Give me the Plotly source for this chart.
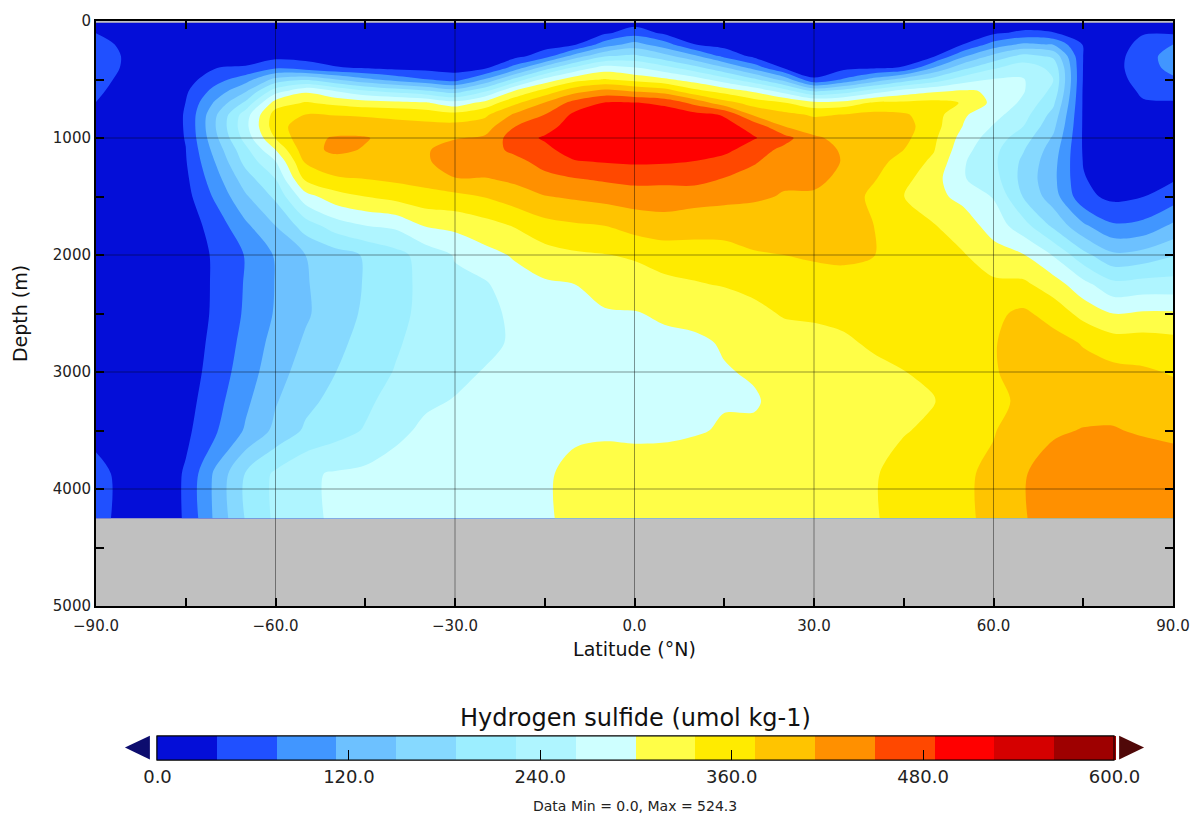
import plotly.graph_objects as go
import numpy as np

# ---------------- data ----------------
latitudes = list(range(-90, 95, 5))
depths = [15, 100, 200, 300, 400, 500, 600, 700, 800, 900, 1000, 1100, 1200,
          1350, 1500, 1750, 2000, 2250, 2500, 2750, 3000, 3250, 3500, 3870, 4250]

# one profile (values at the depths above) per latitude, umol kg-1
h2s_profiles = [
    [20, 37, 50, 55, 55, 50, 44, 37, 30, 22, 15, 12, 10, 8, 6, 5, 4, 4, 4, 5, 7, 12, 25, 50, 50],            # -90
    [12, 22, 30, 34, 33, 28, 22, 18, 15, 12, 10, 8, 7, 6, 5, 4, 3, 3, 3, 4, 5, 8, 15, 25, 25],              # -85
    [6, 7, 8, 9, 10, 11, 12, 12, 12, 12, 12, 12, 11, 10, 8, 6, 3, 2, 2, 2, 3, 5, 10, 8, 8],                 # -80
    [8, 9, 10, 12, 15, 22, 32, 38, 40, 40, 39, 37, 35, 30, 25, 18, 12, 10, 10, 13, 17, 23, 29, 42, 42],     # -75
    [8, 9, 10, 18, 37, 60, 90, 120, 145, 150, 142, 128, 115, 98, 82, 53, 44, 44, 45, 50, 55, 62, 70, 121, 121],  # -70
    [8, 9, 10, 16, 42, 96, 146, 196, 245, 252, 240, 215, 200, 170, 145, 105, 77, 78, 80, 86, 93, 105, 117, 190, 190],  # -65
    [8, 9, 12, 25, 70, 162, 247, 318, 355, 360, 340, 300, 262, 225, 195, 150, 116, 114, 116, 126, 136, 147, 159, 232, 232],  # -60
    [8, 9, 12, 25, 55, 183, 294, 341, 375, 395, 405, 400, 380, 345, 285, 205, 150, 147, 145, 155, 165, 178, 193, 257, 257],  # -55
    [8, 9, 12, 22, 40, 152, 263, 329, 373, 398, 415, 420, 400, 370, 322, 243, 171, 168, 170, 178, 187, 198, 210, 266, 266],  # -50
    [8, 9, 12, 20, 35, 121, 232, 318, 370, 395, 415, 410, 398, 375, 338, 262, 191, 190, 193, 200, 207, 217, 228, 271, 271],  # -45
    [8, 9, 12, 17, 28, 98, 213, 313, 366, 388, 400, 405, 400, 382, 350, 270, 212, 210, 213, 220, 227, 240, 255, 275, 275],   # -40
    [8, 9, 12, 16, 25, 77, 195, 305, 361, 385, 400, 408, 405, 388, 362, 302, 240, 236, 236, 240, 245, 258, 268, 280, 280],   # -35
    [8, 9, 12, 15, 22, 59, 170, 278, 350, 387, 410, 430, 440, 410, 365, 310, 265, 255, 250, 252, 256, 264, 274, 284, 284],   # -30
    [8, 9, 12, 18, 30, 116, 221, 314, 367, 395, 418, 435, 440, 410, 377, 323, 288, 258, 255, 256, 264, 270, 278, 288, 288],  # -25
    [8, 10, 14, 25, 90, 198, 305, 367, 418, 449, 470, 458, 440, 420, 395, 340, 304, 285, 268, 266, 270, 276, 283, 292, 292], # -20
    [8, 12, 22, 56, 167, 275, 352, 415, 450, 472, 492, 478, 462, 440, 411, 362, 322, 295, 282, 280, 282, 286, 290, 297, 297],# -15
    [10, 18, 33, 128, 233, 322, 400, 465, 495, 506, 510, 505, 485, 448, 418, 370, 332, 300, 290, 287, 288, 292, 296, 306, 306],  # -10
    [15, 30, 93, 184, 279, 340, 425, 490, 508, 515, 516, 510, 490, 455, 425, 375, 336, 316, 296, 292, 290, 292, 296, 312, 312],  # -5
    [25, 56, 127, 195, 265, 325, 410, 490, 512, 518, 522, 515, 493, 462, 430, 390, 342, 320, 298, 292, 288, 289, 293, 316, 316], # 0
    [18, 30, 91, 163, 238, 308, 395, 480, 508, 514, 518, 514, 492, 460, 432, 395, 355, 328, 305, 292, 287, 287, 293, 318, 318],  # 5
    [14, 22, 38, 120, 202, 282, 350, 440, 499, 508, 512, 508, 487, 465, 425, 393, 355, 335, 310, 294, 293, 295, 297, 320, 320], # 10
    [12, 16, 24, 65, 155, 242, 324, 390, 484, 500, 505, 497, 475, 448, 422, 390, 360, 340, 315, 303, 298, 298, 303, 322, 322], # 15
    [10, 12, 16, 28, 98, 195, 294, 360, 405, 475, 490, 470, 455, 430, 418, 390, 372, 345, 330, 318, 303, 297, 305, 324, 324], # 20
    [10, 12, 14, 20, 33, 136, 247, 340, 385, 412, 465, 440, 425, 418, 410, 390, 375, 358, 340, 325, 315, 310, 312, 325, 325], # 25
    [10, 12, 14, 18, 25, 40, 184, 312, 370, 395, 418, 428, 430, 420, 408, 393, 378, 365, 341, 330, 325, 322, 322, 326, 326],  # 30
    [10, 12, 14, 18, 28, 80, 205, 316, 376, 392, 402, 408, 410, 405, 398, 390, 382, 362, 345, 333, 325, 322, 322, 328, 328],  # 35
    [10, 12, 14, 20, 32, 126, 244, 344, 385, 395, 400, 395, 390, 378, 365, 375, 376, 362, 352, 342, 330, 325, 328, 334, 334], # 40
    [10, 12, 14, 22, 40, 167, 278, 345, 380, 390, 385, 375, 360, 348, 338, 348, 352, 355, 352, 345, 337, 330, 335, 352, 352], # 45
    [10, 12, 15, 33, 114, 203, 295, 350, 355, 352, 345, 340, 330, 315, 310, 340, 350, 352, 350, 348, 343, 336, 345, 360, 360], # 50
    [10, 15, 38, 107, 177, 245, 305, 335, 305, 298, 285, 275, 266, 265, 290, 318, 340, 350, 357, 360, 362, 360, 365, 368, 368],# 55
    [12, 30, 90, 160, 220, 265, 295, 290, 275, 260, 245, 235, 232, 240, 260, 285, 315, 345, 368, 372, 370, 362, 372, 385, 385],# 60
    [15, 45, 120, 200, 245, 265, 265, 255, 240, 225, 205, 190, 180, 175, 185, 240, 302, 345, 382, 395, 397, 385, 400, 410, 410],  # 65
    [12, 38, 110, 180, 215, 225, 215, 195, 175, 160, 145, 132, 125, 122, 130, 180, 260, 318, 360, 390, 400, 405, 408, 428, 428],  # 70
    [10, 30, 35, 37, 36, 35, 33, 33, 33, 33, 33, 34, 36, 40, 48, 120, 200, 275, 325, 372, 390, 400, 414, 440, 440],  # 75
    [8, 12, 20, 25, 27, 25, 22, 20, 18, 17, 16, 16, 17, 20, 28, 80, 157, 235, 300, 355, 385, 400, 415, 443, 443],    # 80
    [15, 35, 48, 55, 55, 50, 42, 35, 28, 24, 22, 22, 23, 27, 37, 85, 165, 240, 305, 355, 380, 395, 408, 440, 440],   # 85
    [20, 32, 75, 95, 88, 68, 48, 35, 28, 25, 24, 25, 28, 34, 55, 120, 185, 240, 305, 350, 372, 390, 405, 430, 430],  # 90
]

level_colors = ["#040ED8", "#2050FF", "#4196FF", "#6DC1FF", "#86D9FF", "#9CEEFF",
                "#AFF5FF", "#CEFFFF", "#FFFE47", "#FFEB00", "#FFC400", "#FF9000",
                "#FF4800", "#FF0000", "#D50000", "#9E0000"]
cbar_minor_ticks = [0, 60, 120, 180, 240, 300, 360, 420, 480, 540, 600]
cbar_major_ticks = [0, 120, 240, 360, 480, 600]
cbar_major_text = ["0.0", "120.0", "240.0", "360.0", "480.0", "600.0"]
x_tickvals = [-90, -60, -30, 0, 30, 60, 90]
y_tickvals = [0, 1000, 2000, 3000, 4000, 5000]

# ---------------- figure ----------------
z = np.array(h2s_profiles, dtype=float).T  # rows = depth, cols = latitude

n = len(level_colors)
colorscale = []
for i, c in enumerate(level_colors):
    colorscale.append([i / n, c])
    colorscale.append([(i + 1) / n, c])

W, H = 1202, 820
ML, MR, MT, MB = 96, 26, 15, 214
PW, PH = W - ML - MR, H - MT - MB


def px_x(p):
    return (p - ML) / PW


def px_y(p):
    return (H - MB - p) / PH


FONT = "DejaVu Sans"


def make_colorbar(tickvals, ticktext, ticklen):
    return dict(
        orientation="h",
        x=px_x(637.5), xanchor="center",
        y=px_y(737), yanchor="top",
        len=957, lenmode="pixels",
        thickness=24, thicknessmode="pixels",
        outlinewidth=1, outlinecolor="black",
        xpad=0, ypad=0,
        tickmode="array", tickvals=tickvals, ticktext=ticktext,
        ticks="inside", ticklen=ticklen, tickcolor="black", tickwidth=1,
        tickfont=dict(family=FONT, size=18, color="#222"),
    )


contour_common = dict(
    x=latitudes, y=depths, z=z,
    zmin=0, zmax=600, autocontour=False,
    contours=dict(start=0, end=600, size=600 / n, coloring="fill", showlines=False),
    line=dict(width=0, smoothing=0.9),
    colorscale=colorscale,
    hoverinfo="skip",
)

fig = go.Figure()
# base field with short (unlabelled) colorbar ticks
fig.add_trace(go.Contour(**contour_common,
                         colorbar=make_colorbar(cbar_minor_ticks, [""] * len(cbar_minor_ticks), 5)))
# same field drawn again; its colorbar carries the long labelled ticks
fig.add_trace(go.Contour(**contour_common,
                         colorbar=make_colorbar(cbar_major_ticks, cbar_major_text, 10)))

# grid lines drawn above the filled contours
for xv in x_tickvals[1:-1]:
    fig.add_shape(type="line", xref="x", yref="paper", x0=xv, x1=xv, y0=0, y1=1,
                  line=dict(color="rgba(0,0,0,0.42)", width=1), layer="above")
for yv in y_tickvals[1:-1]:
    fig.add_shape(type="line", xref="paper", yref="y", x0=0, x1=1, y0=yv, y1=yv,
                  line=dict(color="rgba(0,0,0,0.42)", width=1), layer="above")

# colorbar extension triangles
fig.add_shape(type="path", xref="paper", yref="paper",
              path=f"M {px_x(150)} {px_y(737)} L {px_x(150)} {px_y(761)} L {px_x(125)} {px_y(749)} Z",
              fillcolor="#0C0C6E", line=dict(width=0))
fig.add_shape(type="path", xref="paper", yref="paper",
              path=f"M {px_x(1122)} {px_y(737)} L {px_x(1122)} {px_y(761)} L {px_x(1147)} {px_y(749)} Z",
              fillcolor="#500808", line=dict(width=0))

# colorbar title
fig.add_annotation(text="Hydrogen sulfide (umol kg-1)", xref="paper", yref="paper",
                   x=px_x(637), y=px_y(719), xanchor="center", yanchor="middle",
                   showarrow=False,
                   font=dict(family=FONT, size=24, color="#111"))

fig.add_annotation(text="Data Min = 0.0, Max = 524.3", xref="paper", yref="paper",
                   x=px_x(637), y=px_y(808), xanchor="center", yanchor="middle",
                   showarrow=False,
                   font=dict(family=FONT, size=14, color="#222"))

fig.update_layout(
    width=W, height=H,
    margin=dict(l=ML, r=MR, t=MT, b=MB),
    paper_bgcolor="white", plot_bgcolor="#C0C0C0",
    font=dict(family=FONT, color="#222"),
    showlegend=False,
)
fig.update_xaxes(
    range=[-90, 90], tickmode="array", tickvals=x_tickvals,
    ticktext=[f"{v:.1f}".replace("-", "\u2212") for v in x_tickvals],
    ticks="inside", ticklen=8, tickcolor="black", tickwidth=1.5,
    minor=dict(tickmode="array", tickvals=[-75, -45, -15, 15, 45, 75], ticks="inside",
               ticklen=8, tickcolor="black", tickwidth=1.5, showgrid=False),
    showgrid=False, zeroline=False,
    showline=True, linecolor="black", linewidth=2, mirror="ticks",
    tickfont=dict(family=FONT, size=15, color="#222"),
    ticklabelstandoff=5,
    title=dict(text="Latitude (°N)", font=dict(family=FONT, size=19, color="#111"), standoff=9),
    layer="above traces",
)
fig.update_yaxes(
    range=[5000, 0], tickmode="array", tickvals=y_tickvals,
    ticktext=[str(v) for v in y_tickvals],
    ticks="inside", ticklen=8, tickcolor="black", tickwidth=1.5,
    minor=dict(tickmode="array", tickvals=[500, 1500, 2500, 3500, 4500], ticks="inside",
               ticklen=8, tickcolor="black", tickwidth=1.5, showgrid=False),
    showgrid=False, zeroline=False,
    showline=True, linecolor="black", linewidth=2, mirror="ticks",
    tickfont=dict(family=FONT, size=15, color="#222"),
    title=dict(text="Depth (m)", font=dict(family=FONT, size=19, color="#111"), standoff=20),
    layer="above traces",
)

fig.write_html("out.html")
